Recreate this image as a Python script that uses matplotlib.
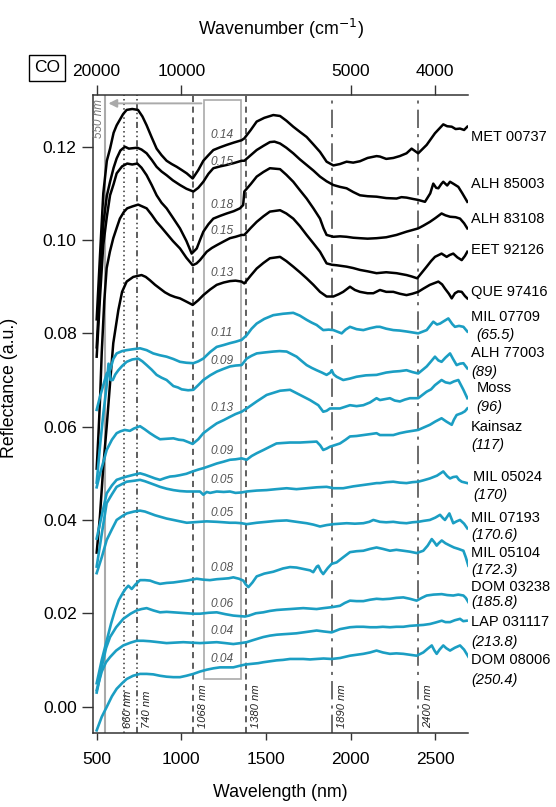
import matplotlib
matplotlib.use("Agg")
import matplotlib.pyplot as plt
from matplotlib.patches import Rectangle
from matplotlib.ticker import FormatStrFormatter

plt.rcParams['font.family'] = ['Liberation Sans', 'DejaVu Sans']

# ---------------------------------------------------------------- data
names = ["MET 00737", "ALH 85003", "ALH 83108", "EET 92126", "QUE 97416",
         "MIL 07709", "ALH 77003", "Moss", "Kainsaz", "MIL 05024",
         "MIL 07193", "MIL 05104", "DOM 03238", "LAP 031117", "DOM 08006"]
temps = [None, None, None, None, None,
         "65.5", "89", "96", "117", "170", "170.6", "172.3", "185.8", "213.8", "250.4"]
band_depth = [0.14, 0.15, 0.18, 0.15, 0.13, 0.11, 0.09, 0.13, 0.09, 0.05,
              0.05, 0.08, 0.06, 0.04, 0.04]

wl_met = [500, 520, 539, 560, 579, 600, 618, 656, 677, 710, 744, 770, 795, 825, 854, 883, 913, 943, 973, 1003,
          1032, 1067, 1100, 1130, 1160, 1189, 1230, 1268, 1310, 1356, 1372, 1410, 1445, 1490, 1543, 1583, 1620,
          1661, 1700, 1740, 1780, 1819, 1858, 1898, 1937, 1976, 2015, 2055, 2100, 2153, 2173, 2210, 2252, 2290,
          2330, 2360, 2399, 2449, 2498, 2547, 2570, 2597, 2620, 2646, 2670, 2689]
r_met = [0.083, 0.097, 0.110, 0.117, 0.1196, 0.123, 0.1246, 0.127, 0.1279, 0.1281, 0.1279, 0.1265, 0.1246,
         0.122, 0.1196, 0.1182, 0.117, 0.1163, 0.1157, 0.115, 0.1143, 0.1132, 0.115, 0.117, 0.1182, 0.1193,
         0.1199, 0.1204, 0.1209, 0.1214, 0.1218, 0.1236, 0.1254, 0.1262, 0.1268, 0.1266, 0.1256, 0.1243, 0.1232,
         0.1221, 0.1205, 0.1189, 0.1168, 0.116, 0.1163, 0.1168, 0.1166, 0.1169, 0.1176, 0.118, 0.1179, 0.1174,
         0.1176, 0.118, 0.1186, 0.1196, 0.1186, 0.1204, 0.1229, 0.1248, 0.1244, 0.1243, 0.1238, 0.1239, 0.1236,
         0.1243]

wl_a85 = [500, 520, 539, 560, 579, 600, 618, 640, 667, 690, 715, 740, 765, 795, 825, 854, 883, 913, 950, 992,
          1030, 1071, 1100, 1130, 1160, 1189, 1230, 1268, 1310, 1356, 1372, 1410, 1445, 1485, 1523, 1550, 1583,
          1620, 1661, 1700, 1740, 1780, 1819, 1858, 1898, 1937, 1976, 2015, 2055, 2100, 2153, 2210, 2271, 2300,
          2330, 2370, 2399, 2439, 2470, 2488, 2505, 2518, 2535, 2547, 2570, 2587, 2610, 2636, 2660, 2689]
r_a85 = [0.077, 0.091, 0.1035, 0.1095, 0.1125, 0.1155, 0.1175, 0.1192, 0.120, 0.1196, 0.1197, 0.1198, 0.1194,
         0.1186, 0.1172, 0.1157, 0.1147, 0.1139, 0.1128, 0.1118, 0.111, 0.1104, 0.1112, 0.1125, 0.1142, 0.1154,
         0.1158, 0.1161, 0.1165, 0.117, 0.117, 0.1182, 0.1193, 0.1202, 0.121, 0.1211, 0.1207, 0.1198, 0.1186,
         0.1173, 0.1161, 0.1149, 0.1136, 0.1126, 0.1118, 0.1114, 0.1111, 0.1103, 0.1096, 0.1094, 0.1093, 0.109,
         0.1089, 0.1092, 0.1091, 0.1088, 0.1086, 0.1082, 0.110, 0.1121, 0.1112, 0.1111, 0.112, 0.1125, 0.1117,
         0.1125, 0.112, 0.1114, 0.110, 0.1082]

wl_a83 = [500, 520, 539, 560, 579, 600, 618, 650, 680, 710, 740, 765, 795, 825, 854, 883, 913, 950, 992, 1030,
          1061, 1091, 1110, 1130, 1160, 1189, 1230, 1268, 1310, 1346, 1365, 1372, 1410, 1445, 1485, 1523, 1583,
          1620, 1661, 1700, 1740, 1780, 1819, 1840, 1858, 1898, 1937, 1976, 2015, 2055, 2100, 2153, 2210, 2271,
          2330, 2360, 2399, 2430, 2468, 2500, 2537, 2560, 2587, 2620, 2646, 2670, 2689]
r_a83 = [0.075, 0.088, 0.099, 0.105, 0.1096, 0.112, 0.1143, 0.1158, 0.1164, 0.1162, 0.1164, 0.1155, 0.1139,
         0.1118, 0.1096, 0.108, 0.1068, 0.1048, 0.1025, 0.0998, 0.0971, 0.0982, 0.100, 0.1018, 0.1034, 0.1046,
         0.1052, 0.1057, 0.1062, 0.1068, 0.1075, 0.1104, 0.112, 0.1136, 0.1146, 0.1154, 0.1152, 0.114, 0.1125,
         0.1107, 0.1089, 0.1068, 0.1046, 0.1025, 0.1011, 0.1007, 0.1008, 0.1007, 0.1005, 0.1004, 0.1003, 0.1004,
         0.1006, 0.1011, 0.1018, 0.1021, 0.1025, 0.1031, 0.1039, 0.1047, 0.1057, 0.1053, 0.105, 0.1049, 0.1046,
         0.1036, 0.1025]

wl_eet = [500, 510, 520, 530, 545, 559, 578, 598, 620, 637, 660, 680, 710, 745, 770, 795, 825, 854, 883, 913,
          950, 992, 1030, 1067, 1090, 1110, 1150, 1180, 1209, 1250, 1287, 1320, 1356, 1372, 1410, 1445, 1485,
          1523, 1583, 1620, 1661, 1700, 1740, 1780, 1819, 1858, 1890, 1917, 1976, 2015, 2055, 2100, 2153, 2210,
          2271, 2330, 2360, 2393, 2420, 2449, 2475, 2498, 2537, 2567, 2585, 2606, 2630, 2656, 2675, 2689]
r_eet = [0.051, 0.058, 0.066, 0.076, 0.087, 0.094, 0.0975, 0.1004, 0.1028, 0.1046, 0.106, 0.1068, 0.1072,
         0.1076, 0.1072, 0.1068, 0.1054, 0.1039, 0.1027, 0.1014, 0.0998, 0.0982, 0.0962, 0.0946, 0.095, 0.0957,
         0.0975, 0.0983, 0.0989, 0.0997, 0.1004, 0.1007, 0.1011, 0.1011, 0.1026, 0.1039, 0.1051, 0.1061, 0.1064,
         0.1057, 0.1046, 0.103, 0.1011, 0.0993, 0.0975, 0.095, 0.0947, 0.0946, 0.0943, 0.094, 0.0936, 0.0933,
         0.0929, 0.0931, 0.0929, 0.0925, 0.0922, 0.0918, 0.093, 0.0943, 0.0955, 0.0964, 0.0971, 0.0964, 0.0968,
         0.0971, 0.0963, 0.0957, 0.0966, 0.0975]

wl_que = [500, 519, 539, 559, 579, 598, 628, 650, 677, 716, 765, 790, 814, 845, 874, 903, 933, 962, 992, 1030,
          1067, 1100, 1130, 1170, 1209, 1250, 1287, 1320, 1356, 1372, 1410, 1445, 1485, 1523, 1583, 1620, 1661,
          1700, 1740, 1780, 1819, 1858, 1898, 1930, 1956, 1996, 2025, 2055, 2100, 2134, 2173, 2210, 2252, 2290,
          2330, 2365, 2399, 2430, 2468, 2518, 2540, 2557, 2580, 2597, 2616, 2635, 2656, 2675, 2689]
r_que = [0.033, 0.0407, 0.0514, 0.060, 0.0693, 0.0779, 0.085, 0.0889, 0.0911, 0.0921, 0.0925, 0.0921, 0.0914,
         0.0904, 0.0896, 0.0888, 0.0882, 0.0878, 0.0875, 0.0868, 0.0861, 0.0871, 0.0882, 0.0894, 0.0904, 0.0909,
         0.0912, 0.0913, 0.0911, 0.0907, 0.0924, 0.0939, 0.0951, 0.0961, 0.0964, 0.0955, 0.0943, 0.0931, 0.0918,
         0.0904, 0.0889, 0.0879, 0.0879, 0.0884, 0.0889, 0.090, 0.0893, 0.0889, 0.0886, 0.0886, 0.0893, 0.0889,
         0.0889, 0.0885, 0.0882, 0.0885, 0.0889, 0.0896, 0.0904, 0.0911, 0.0905, 0.0896, 0.0885, 0.0875, 0.0886,
         0.089, 0.0889, 0.088, 0.0875]

wl_m09 = [500, 520, 540, 559, 580, 598, 618, 650, 677, 715, 756, 795, 834, 874, 913, 953, 992, 1030, 1071, 1100,
          1130, 1170, 1209, 1250, 1287, 1320, 1356, 1386, 1415, 1445, 1490, 1543, 1600, 1661, 1700, 1740, 1770,
          1799, 1838, 1870, 1898, 1947, 1970, 1996, 2035, 2075, 2115, 2153, 2173, 2210, 2252, 2290, 2330, 2365,
          2399, 2449, 2488, 2510, 2528, 2550, 2577, 2600, 2616, 2640, 2666, 2689]
r_m09 = [0.0636, 0.0665, 0.069, 0.0714, 0.0722, 0.0745, 0.0757, 0.0762, 0.0764, 0.0766, 0.0768, 0.0764, 0.0757,
         0.0753, 0.075, 0.0745, 0.0739, 0.0737, 0.0736, 0.074, 0.0746, 0.076, 0.0771, 0.0775, 0.0779, 0.0782,
         0.0786, 0.0796, 0.081, 0.0821, 0.0831, 0.0839, 0.0842, 0.0844, 0.0838, 0.0829, 0.0823, 0.0818, 0.0807,
         0.0808, 0.0807, 0.080, 0.0808, 0.0814, 0.0809, 0.0807, 0.0811, 0.0814, 0.0814, 0.081, 0.0807, 0.0806,
         0.0804, 0.0802, 0.080, 0.0807, 0.0825, 0.0819, 0.0821, 0.0826, 0.0832, 0.082, 0.0814, 0.0816, 0.0814,
         0.0804]

wl_a77 = [500, 520, 540, 558, 570, 582, 595, 610, 628, 650, 677, 710, 745, 770, 795, 825, 854, 883, 913, 953,
          980, 1002, 1040, 1071, 1100, 1130, 1170, 1209, 1250, 1287, 1320, 1356, 1386, 1415, 1445, 1490, 1543,
          1580, 1622, 1681, 1710, 1740, 1770, 1799, 1830, 1858, 1880, 1888, 1900, 1917, 1956, 1995, 2035, 2090,
          2153, 2210, 2252, 2290, 2330, 2365, 2399, 2449, 2475, 2498, 2518, 2537, 2560, 2587, 2605, 2626, 2646,
          2666, 2689]
r_a77 = [0.048, 0.056, 0.063, 0.0685, 0.0735, 0.070, 0.070, 0.0712, 0.0721, 0.073, 0.0739, 0.0744, 0.0746,
         0.074, 0.0732, 0.0722, 0.0711, 0.0705, 0.070, 0.0687, 0.0684, 0.068, 0.0678, 0.0679, 0.0689, 0.070,
         0.071, 0.0718, 0.0724, 0.0729, 0.0731, 0.0732, 0.0746, 0.0752, 0.0757, 0.0759, 0.0761, 0.0762, 0.0761,
         0.075, 0.0741, 0.0732, 0.0726, 0.0721, 0.0716, 0.0711, 0.0716, 0.0721, 0.0712, 0.0707, 0.070, 0.0703,
         0.0707, 0.071, 0.0711, 0.0716, 0.0718, 0.0719, 0.0721, 0.0717, 0.0714, 0.0729, 0.074, 0.075, 0.0742,
         0.0739, 0.0748, 0.0757, 0.0745, 0.0732, 0.0735, 0.0736, 0.0725]

wl_moss = [500, 520, 540, 559, 590, 618, 640, 666, 696, 720, 756, 785, 815, 845, 874, 913, 953, 985, 1012,
           1040, 1067, 1100, 1130, 1170, 1209, 1250, 1287, 1320, 1356, 1386, 1445, 1504, 1583, 1642, 1701, 1760,
           1809, 1838, 1858, 1878, 1937, 1996, 2035, 2075, 2115, 2153, 2173, 2232, 2260, 2291, 2320, 2350, 2399,
           2449, 2475, 2498, 2537, 2560, 2587, 2610, 2636, 2666, 2689]
r_moss = [0.047, 0.050, 0.0525, 0.055, 0.0572, 0.0586, 0.059, 0.0593, 0.0591, 0.0596, 0.0601, 0.0594, 0.0586,
          0.0579, 0.0573, 0.0574, 0.0575, 0.0572, 0.0571, 0.0567, 0.0563, 0.0573, 0.0586, 0.0597, 0.0607,
          0.0614, 0.0621, 0.0627, 0.0632, 0.0639, 0.0654, 0.0668, 0.0677, 0.0679, 0.0668, 0.0657, 0.0646,
          0.0632, 0.0634, 0.0639, 0.0639, 0.0646, 0.0644, 0.0646, 0.0652, 0.0661, 0.0657, 0.0661, 0.0656,
          0.0654, 0.0658, 0.0661, 0.0661, 0.0675, 0.068, 0.0689, 0.070, 0.0695, 0.0693, 0.0697, 0.070, 0.0679,
          0.0661]

wl_kai = [500, 530, 559, 590, 618, 650, 677, 720, 756, 785, 815, 845, 874, 905, 933, 962, 992, 1030, 1067,
          1100, 1130, 1170, 1209, 1250, 1287, 1320, 1356, 1386, 1415, 1445, 1485, 1523, 1562, 1600, 1642, 1701,
          1750, 1799, 1820, 1838, 1858, 1878, 1937, 1970, 1996, 2035, 2075, 2115, 2153, 2173, 2252, 2290, 2330,
          2365, 2399, 2430, 2468, 2500, 2537, 2565, 2597, 2610, 2626, 2656, 2675, 2689]
r_kai = [0.036, 0.041, 0.0457, 0.0474, 0.0486, 0.049, 0.0493, 0.0497, 0.050, 0.0497, 0.0493, 0.0489, 0.0486,
         0.049, 0.0493, 0.0494, 0.0496, 0.0499, 0.0504, 0.0508, 0.0511, 0.0516, 0.0521, 0.0525, 0.0529, 0.053,
         0.0532, 0.0529, 0.0537, 0.0543, 0.055, 0.0557, 0.0564, 0.0565, 0.0566, 0.0566, 0.0567, 0.0568, 0.056,
         0.055, 0.0553, 0.0557, 0.0564, 0.0572, 0.0579, 0.058, 0.0582, 0.0584, 0.0586, 0.0582, 0.0582, 0.0586,
         0.0589, 0.0591, 0.0593, 0.0598, 0.0604, 0.0611, 0.0618, 0.0611, 0.0604, 0.0615, 0.0625, 0.0629,
         0.0633, 0.0639]

wl_m24 = [500, 530, 559, 590, 618, 650, 677, 720, 756, 785, 815, 845, 874, 913, 953, 992, 1032, 1070, 1110,
          1130, 1150, 1170, 1209, 1250, 1287, 1320, 1356, 1386, 1445, 1504, 1560, 1622, 1680, 1740, 1800, 1858,
          1900, 1956, 2015, 2075, 2115, 2153, 2173, 2210, 2252, 2290, 2330, 2365, 2399, 2430, 2468, 2510, 2547,
          2570, 2587, 2606, 2626, 2640, 2656, 2689]
r_m24 = [0.030, 0.037, 0.0436, 0.0455, 0.0471, 0.0477, 0.0482, 0.0484, 0.0486, 0.0483, 0.0479, 0.0475, 0.0471,
         0.0467, 0.0464, 0.0462, 0.0461, 0.0461, 0.0461, 0.0454, 0.046, 0.0458, 0.0461, 0.046, 0.0461, 0.0458,
         0.0459, 0.0461, 0.0463, 0.0464, 0.0466, 0.0468, 0.0466, 0.0468, 0.047, 0.0471, 0.0468, 0.0468,
         0.0472, 0.0475, 0.0477, 0.0479, 0.0479, 0.0481, 0.0482, 0.048, 0.0479, 0.0481, 0.0482, 0.0485,
         0.0489, 0.0495, 0.0504, 0.0494, 0.0489, 0.0492, 0.0493, 0.0486, 0.0482, 0.0479]

wl_m93 = [500, 530, 559, 590, 618, 650, 677, 720, 756, 785, 815, 845, 874, 913, 953, 992, 1032, 1070, 1110,
          1150, 1209, 1250, 1287, 1320, 1356, 1386, 1445, 1504, 1560, 1622, 1680, 1740, 1780, 1819, 1858, 1898,
          1937, 1976, 2025, 2075, 2110, 2134, 2173, 2210, 2252, 2290, 2330, 2365, 2399, 2430, 2468, 2500, 2528,
          2545, 2557, 2572, 2583, 2595, 2606, 2626, 2646, 2670, 2689]
r_m93 = [0.0286, 0.032, 0.0357, 0.038, 0.040, 0.0408, 0.0414, 0.0418, 0.042, 0.0418, 0.0414, 0.041, 0.0407,
         0.0403, 0.040, 0.0397, 0.0394, 0.0395, 0.0396, 0.0397, 0.0396, 0.0395, 0.0394, 0.0394, 0.0393,
         0.0391, 0.0394, 0.0396, 0.0398, 0.0399, 0.0396, 0.0393, 0.039, 0.0386, 0.0389, 0.0391, 0.0392,
         0.0393, 0.0392, 0.0393, 0.0396, 0.040, 0.0396, 0.0395, 0.0396, 0.0394, 0.0393, 0.0395, 0.0396,
         0.0398, 0.040, 0.0405, 0.0411, 0.0404, 0.040, 0.0408, 0.0414, 0.0403, 0.0393, 0.0397, 0.040, 0.0392,
         0.0382]

wl_m04 = [500, 530, 559, 585, 608, 630, 657, 672, 687, 707, 730, 756, 785, 815, 845, 874, 913, 953, 992, 1032,
          1060, 1091, 1130, 1169, 1210, 1248, 1280, 1307, 1340, 1366, 1380, 1396, 1420, 1445, 1490, 1543, 1600,
          1642, 1680, 1720, 1760, 1779, 1800, 1809, 1825, 1838, 1865, 1888, 1917, 1956, 1996, 2035, 2075, 2115,
          2153, 2190, 2232, 2270, 2311, 2350, 2390, 2429, 2455, 2479, 2495, 2508, 2520, 2538, 2560, 2587, 2610,
          2636, 2666, 2680, 2695]
r_m04 = [0.005, 0.010, 0.0141, 0.0178, 0.0206, 0.0228, 0.0245, 0.0253, 0.0259, 0.0252, 0.0262, 0.0271, 0.0271,
         0.027, 0.0266, 0.0263, 0.0265, 0.0266, 0.0268, 0.027, 0.0272, 0.0274, 0.0272, 0.0271, 0.0273, 0.0274,
         0.0275, 0.0277, 0.0274, 0.027, 0.0262, 0.0256, 0.0266, 0.0279, 0.0285, 0.0289, 0.0296, 0.0299,
         0.0298, 0.0295, 0.0292, 0.0288, 0.030, 0.0302, 0.029, 0.0284, 0.0297, 0.0306, 0.0309, 0.032, 0.0331,
         0.0333, 0.0334, 0.0338, 0.0341, 0.0338, 0.0334, 0.0336, 0.0334, 0.0332, 0.0329, 0.0334, 0.0345,
         0.0359, 0.0352, 0.0345, 0.035, 0.0356, 0.035, 0.0345, 0.0341, 0.0338, 0.0334, 0.032, 0.0302]

wl_d38 = [500, 509, 530, 555, 579, 615, 657, 700, 736, 765, 795, 835, 874, 913, 953, 992, 1032, 1070, 1110,
          1160, 1209, 1260, 1307, 1340, 1376, 1400, 1440, 1484, 1523, 1563, 1600, 1642, 1680, 1720, 1760, 1799,
          1840, 1888, 1937, 1965, 1996, 2035, 2075, 2115, 2153, 2190, 2232, 2270, 2311, 2350, 2390, 2420, 2449,
          2490, 2538, 2570, 2606, 2636, 2666, 2680, 2695]
r_d38 = [0.003, 0.0045, 0.0085, 0.0125, 0.0149, 0.017, 0.0188, 0.0199, 0.0206, 0.0209, 0.0211, 0.0206, 0.0202,
         0.0203, 0.0202, 0.0201, 0.020, 0.0199, 0.0199, 0.0201, 0.0202, 0.0198, 0.0195, 0.0194, 0.0193,
         0.0195, 0.020, 0.0202, 0.0205, 0.0207, 0.0208, 0.0209, 0.021, 0.0211, 0.021, 0.0209, 0.0211, 0.0213,
         0.0216, 0.0222, 0.0227, 0.0226, 0.0226, 0.0229, 0.0231, 0.023, 0.0231, 0.0233, 0.0234, 0.0231,
         0.0227, 0.0233, 0.0238, 0.024, 0.0241, 0.0239, 0.0238, 0.024, 0.0238, 0.0233, 0.0224]

wl_lap = [500, 504, 530, 555, 579, 615, 657, 700, 736, 775, 815, 865, 913, 960, 1012, 1060, 1110, 1160, 1209,
          1260, 1307, 1350, 1386, 1420, 1465, 1484, 1523, 1563, 1600, 1642, 1680, 1720, 1760, 1799, 1840, 1888,
          1937, 1996, 2035, 2075, 2115, 2153, 2190, 2232, 2270, 2311, 2350, 2390, 2430, 2469, 2500, 2538, 2560,
          2587, 2615, 2646, 2665, 2685]
r_lap = [0.0035, 0.0041, 0.0075, 0.0095, 0.0106, 0.012, 0.0131, 0.0137, 0.0141, 0.0141, 0.014, 0.0138, 0.0136,
         0.0137, 0.0138, 0.0137, 0.0136, 0.0137, 0.0138, 0.0136, 0.0134, 0.0136, 0.0138, 0.0142, 0.0147,
         0.0149, 0.0152, 0.0154, 0.0155, 0.0156, 0.0157, 0.0159, 0.0161, 0.0163, 0.0161, 0.0159, 0.0166,
         0.017, 0.0171, 0.0171, 0.017, 0.017, 0.0171, 0.017, 0.0171, 0.0171, 0.0173, 0.0174, 0.0175, 0.0177,
         0.018, 0.0184, 0.0181, 0.0181, 0.0185, 0.0188, 0.0183, 0.0184]

wl_d06 = [500, 530, 559, 590, 618, 650, 677, 715, 756, 795, 834, 874, 913, 953, 992, 1030, 1071, 1110, 1150,
          1190, 1228, 1270, 1307, 1340, 1376, 1400, 1454, 1484, 1523, 1563, 1600, 1642, 1680, 1720, 1760, 1799,
          1840, 1888, 1937, 1996, 2035, 2075, 2115, 2153, 2190, 2232, 2270, 2311, 2350, 2390, 2429, 2455, 2479,
          2495, 2508, 2525, 2547, 2565, 2587, 2615, 2646, 2670, 2695]
r_d06 = [-0.0051, -0.0022, -0.0001, 0.0022, 0.0038, 0.005, 0.0059, 0.0066, 0.007, 0.007, 0.0069, 0.0066,
         0.0064, 0.0063, 0.0063, 0.0066, 0.007, 0.0075, 0.0079, 0.0082, 0.0084, 0.0084, 0.0084, 0.0087, 0.009,
         0.0091, 0.0093, 0.0095, 0.0097, 0.0099, 0.010, 0.0102, 0.0102, 0.0102, 0.0101, 0.0102, 0.0103, 0.0102,
         0.0104, 0.0109, 0.0111, 0.0113, 0.0116, 0.012, 0.0116, 0.0113, 0.0114, 0.0113, 0.0111, 0.0109,
         0.0116, 0.0124, 0.0131, 0.012, 0.0113, 0.0122, 0.0131, 0.0125, 0.012, 0.0126, 0.0131, 0.0122, 0.0107]

wavelengths = [wl_met, wl_a85, wl_a83, wl_eet, wl_que, wl_m09, wl_a77, wl_moss, wl_kai, wl_m24,
               wl_m93, wl_m04, wl_d38, wl_lap, wl_d06]
spectra = [r_met, r_a85, r_a83, r_eet, r_que, r_m09, r_a77, r_moss, r_kai, r_m24,
           r_m93, r_m04, r_d38, r_lap, r_d06]

band_lines = [660, 740, 1068, 1380, 1890, 2400]
wn_ticks = [20000, 10000, 5000, 4000]

# ---------------------------------------------------------------- layout
black = "black"
cyan = "#1b9ec3"
grey = "#aaaaaa"
axc = "#333333"

# label heights next to the right end of each spectrum
name_y = [0.1220, 0.1121, 0.1046, 0.0979, 0.0889, 0.0836, 0.0757, 0.0683, 0.0600, 0.0493,
          0.0404, 0.0329, 0.0257, 0.0182, 0.0100]
temp_y = [None, None, None, None, None, 0.0796, 0.0718, 0.0643, 0.0561, 0.0454,
          0.0368, 0.0293, 0.0225, 0.0139, 0.0057]
name_dx = [0, 0, 0, 0, 0, 0, 0, 30, 0, 10, 0, 0, 0, 0, 0]
temp_dx = [0, 0, 0, 0, 0, 30, 0, 30, 0, 12, 0, 0, 0, 0, 0]
# band depth text heights inside the grey window
depth_y = [0.1225, 0.1168, 0.1075, 0.1019, 0.0930, 0.0800, 0.0741, 0.0639, 0.0548, 0.0486,
           0.0414, 0.0296, 0.0220, 0.0161, 0.0102]

fig = plt.figure(figsize=(5.56, 8.07), dpi=100)
ax = fig.add_axes([0.1678, 0.0921, 0.6739, 0.7902])
ax.set_xlim(480, 2693)
ax.set_ylim(-0.0056, 0.1311)

for i, (wl, r) in enumerate(zip(wavelengths, spectra)):
    col = black if i < 5 else cyan
    ax.plot(wl, r, color=col, lw=1.8 if i < 5 else 1.9, solid_joinstyle='round', zorder=3)

    ax.text(2712 + name_dx[i], name_y[i], names[i], fontsize=10.5, va='center', ha='left',
            color='black', clip_on=False)
    if temps[i] is not None:
        ax.text(2712 + temp_dx[i], temp_y[i], "(" + temps[i] + ")", fontsize=10.5, va='center',
                ha='left', style='italic', color='black', clip_on=False)
    ax.text(1240, depth_y[i], "%.2f" % band_depth[i], fontsize=8.6, style='italic',
            color='#555555', ha='center', va='center', zorder=4)

# band centre markers
styles = [(0, (1, 2)), (0, (4, 2, 1, 2, 1, 2)), (0, (4, 3)), (0, (4, 3)),
          (0, (12, 4, 2, 4)), (0, (12, 4, 2, 4))]
for b, ls in zip(band_lines, styles):
    c = axc if b < 1500 else '#444444'
    ax.axvline(b, color=c, lw=1.1, linestyle=ls, zorder=2)
    dx = 25 if b == 660 else 60
    ax.text(b + dx, -0.0047, "%d nm" % b, rotation=90, fontsize=8, style='italic',
            ha='center', va='bottom', color='#222222', zorder=4)

# 550 nm reference and the grey window used for the band depths
ax.axvline(550, color=grey, lw=1.5, zorder=2)
ax.text(513, 0.1303, "550 nm", rotation=90, fontsize=8.4, style='italic', color='#777777',
        ha='center', va='top')
ax.add_patch(Rectangle((1135, 0.0059), 1355 - 1135, 0.1301 - 0.0059, fill=False,
                       edgecolor=grey, lw=1.2, zorder=2))
ax.annotate("", xy=(553, 0.1293), xytext=(1135, 0.1293),
            arrowprops=dict(arrowstyle='-|>', color=grey, lw=1.4, mutation_scale=12))

ax.set_xticks([500, 1000, 1500, 2000, 2500])
ax.set_yticks([0.00, 0.02, 0.04, 0.06, 0.08, 0.10, 0.12])
ax.yaxis.set_major_formatter(FormatStrFormatter('%.2f'))
ax.tick_params(axis='x', direction='out', length=5, width=1, labelsize=12.5, pad=9, color=axc)
ax.tick_params(axis='y', direction='out', length=8, width=1, labelsize=12.5, pad=4, color=axc)
for s in ['right', 'top']:
    ax.spines[s].set_visible(False)
for s in ['left', 'bottom']:
    ax.spines[s].set_color(axc)
    ax.spines[s].set_linewidth(1.1)
ax.set_xlabel("Wavelength (nm)", fontsize=12.8, labelpad=12)
ax.set_ylabel("Reflectance (a.u.)", fontsize=12.8)
ax.yaxis.set_label_coords(-0.201, 0.54)

# wavenumber scale on top
ax2 = ax.twiny()
ax2.set_xlim(ax.get_xlim())
ax2.set_xticks([1e7 / w for w in wn_ticks])
ax2.set_xticklabels([str(w) for w in wn_ticks])
ax2.tick_params(axis='x', direction='out', length=7, width=1, labelsize=12.5, pad=4.5, color=axc)
for s in ['right', 'left', 'bottom']:
    ax2.spines[s].set_visible(False)
ax2.spines['top'].set_color(axc)
ax2.spines['top'].set_linewidth(1.1)
ax2.set_xlabel("Wavenumber (cm$^{-1}$)", fontsize=12.8, labelpad=21)

fig.text(47 / 556, 1 - 68 / 807, "CO", fontsize=12.5, ha='center', va='center',
         bbox=dict(boxstyle='square,pad=0.3', fc='white', ec='black', lw=1))

fig.savefig("out.png", dpi=100)
